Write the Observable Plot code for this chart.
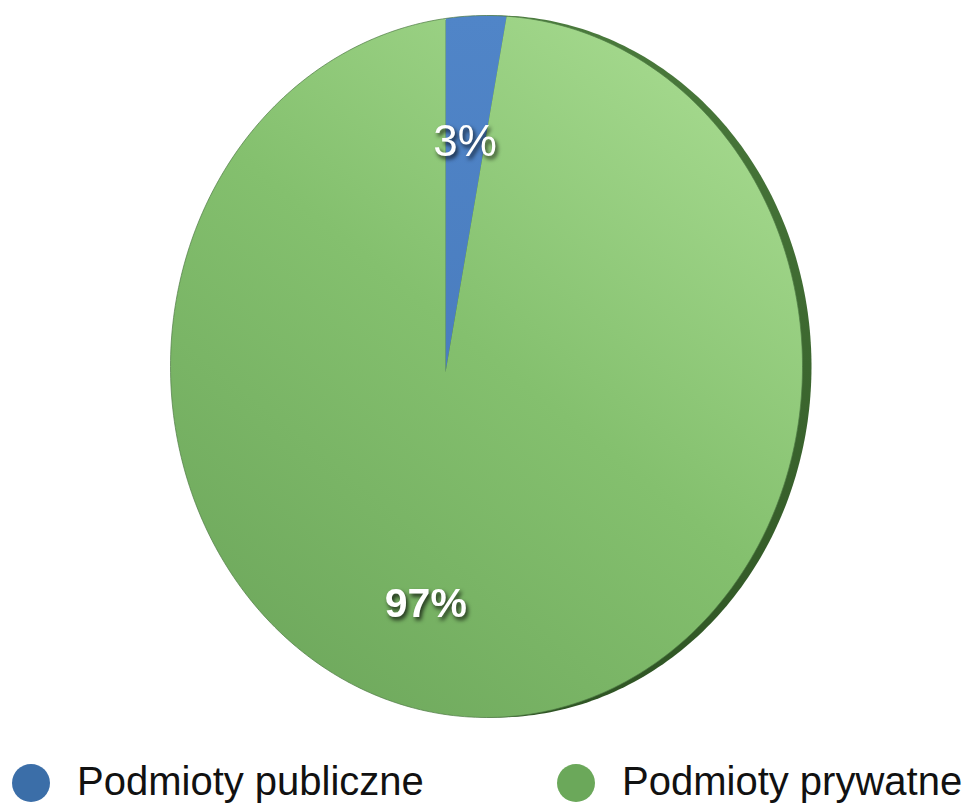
<!DOCTYPE html>
<html>
<head>
<meta charset="utf-8">
<script src="https://cdn.jsdelivr.net/npm/d3@7"></script>
<script src="https://cdn.jsdelivr.net/npm/@observablehq/plot@0.6"></script>
<style>
  html, body { margin: 0; padding: 0; background: #fff; width: 971px; height: 805px; overflow: hidden; }
  #chart svg { display: block; }
  #legend { position: relative; width: 971px; height: 60px; overflow: hidden; font-family: "Liberation Sans", Arial, sans-serif; }
  .dot { position: absolute; width: 38px; height: 38px; border-radius: 50%; top: 19px; }
  .lab { position: absolute; top: 16px; font-size: 40px; line-height: 40px; color: #111; white-space: nowrap; }
</style>
</head>
<body>
<div id="chart"></div>
<div id="legend"></div>
<script>
// ---- data ----
const categories = ["Podmioty publiczne", "Podmioty prywatne"];
const shares = [3, 97];
const labels = ["3%", "97%"];
const sliceColors = ["url(#blueGrad)", "url(#greenGrad)"];
const legendColors = ["#3b6ea8", "#6ba85a"];

// ---- layout constants (tilted pie) ----
const W = 971, H = 745;
const C = {x: 486, y: 366, rx: 316, ry: 351};   // face ellipse
const V = {x: 445, y: 372};                     // pie apex (perspective)
const squeeze = 0.9;                            // horizontal foreshortening of angles
const rimShift = 9;
const labelDist = 232;

function dir(theta) { return {dx: squeeze * Math.sin(theta), dy: -Math.cos(theta)}; }

function rayHit(theta) {
  const {dx, dy} = dir(theta);
  const px = V.x - C.x, py = V.y - C.y;
  const a = dx*dx/(C.rx*C.rx) + dy*dy/(C.ry*C.ry);
  const b = 2*(px*dx/(C.rx*C.rx) + py*dy/(C.ry*C.ry));
  const c = px*px/(C.rx*C.rx) + py*py/(C.ry*C.ry) - 1;
  const t = (-b + Math.sqrt(b*b - 4*a*c)) / (2*a);
  return {x: V.x + t*dx, y: V.y + t*dy};
}

const arcs = d3.pie().sort(null).value(d => d)(shares);

// slice polygons
const slicePts = [];
arcs.forEach((a, i) => {
  slicePts.push({k: i, x: V.x, y: V.y});
  const n = Math.max(4, Math.ceil((a.endAngle - a.startAngle) / (Math.PI/360)));
  for (let j = 0; j <= n; j++) {
    const th = a.startAngle + (a.endAngle - a.startAngle) * j / n;
    const p = rayHit(th);
    slicePts.push({k: i, x: p.x, y: p.y});
  }
});

// ellipse outlines
function ellipsePts(dx) {
  return d3.range(0, 361, 1).map(d => {
    const t = d * Math.PI / 180;
    return {x: C.x + dx + C.rx * Math.cos(t), y: C.y + C.ry * Math.sin(t)};
  });
}
const rimPts = ellipsePts(rimShift);
const facePts = ellipsePts(0);

// labels
const labelData = arcs.map((a, i) => {
  const m = (a.startAngle + a.endAngle) / 2;
  const {dx, dy} = dir(m);
  return {label: labels[i], x: V.x + labelDist*dx, y: V.y + labelDist*dy};
});

const font = '"Liberation Sans", Arial, sans-serif';
const chart = Plot.plot({
  width: W, height: H,
  margin: 0,
  x: {domain: [0, W], range: [0, W], axis: null},
  y: {domain: [0, H], range: [0, H], axis: null},
  style: {fontFamily: font, background: "#fff"},
  marks: [
    Plot.line(rimPts, {x: "x", y: "y", fill: "url(#rimGrad)", stroke: "none", curve: "linear"}),
    ...arcs.map((a, i) => Plot.line(slicePts.filter(p => p.k === i), {x: "x", y: "y", fill: sliceColors[i], stroke: "none"})),
    Plot.line(facePts, {x: "x", y: "y", stroke: "#4f7a44", strokeWidth: 1, strokeOpacity: 0.7}),
    Plot.text([labelData[0]], {x: "x", y: "y", text: "label", fill: "#fff", fontSize: 44, fontWeight: "normal", fontFamily: font}),
    Plot.text([labelData[1]], {x: "x", y: "y", text: "label", fill: "#fff", fontSize: 41, fontWeight: "bold", fontFamily: font})
  ]
});

// gradients
const svg = d3.select(chart);
const defs = svg.insert("defs", ":first-child");
const g1 = defs.append("linearGradient").attr("id", "greenGrad").attr("x1", "0.85").attr("y1", "0.05").attr("x2", "0.2").attr("y2", "0.95");
g1.append("stop").attr("offset", "0").attr("stop-color", "#a6da8f");
g1.append("stop").attr("offset", "0.5").attr("stop-color", "#84c06e");
g1.append("stop").attr("offset", "1").attr("stop-color", "#6fa95d");
const g2 = defs.append("linearGradient").attr("id", "blueGrad").attr("x1", "0").attr("y1", "0").attr("x2", "0").attr("y2", "1");
g2.append("stop").attr("offset", "0").attr("stop-color", "#5085c8");
g2.append("stop").attr("offset", "1").attr("stop-color", "#4a7dbf");
const g3 = defs.append("linearGradient").attr("id", "rimGrad").attr("x1", "0").attr("y1", "0").attr("x2", "0").attr("y2", "1");
g3.append("stop").attr("offset", "0").attr("stop-color", "#4a7a3c");
g3.append("stop").attr("offset", "0.5").attr("stop-color", "#3c672f");
g3.append("stop").attr("offset", "1").attr("stop-color", "#2f5424");

chart.querySelectorAll('g[aria-label="text"]').forEach(g => {
  g.style.filter = "drop-shadow(2px 3px 2px rgba(0,0,0,0.75))";
});

document.getElementById("chart").appendChild(chart);

// legend
const dotX = [12, 557];
const labX = [77, 622];
const leg = document.getElementById("legend");
categories.forEach((c, i) => {
  const d = document.createElement("span");
  d.className = "dot";
  d.style.left = dotX[i] + "px";
  d.style.background = legendColors[i];
  leg.appendChild(d);
  const t = document.createElement("span");
  t.className = "lab";
  t.style.left = labX[i] + "px";
  t.textContent = c;
  leg.appendChild(t);
});
</script>
</body>
</html>
